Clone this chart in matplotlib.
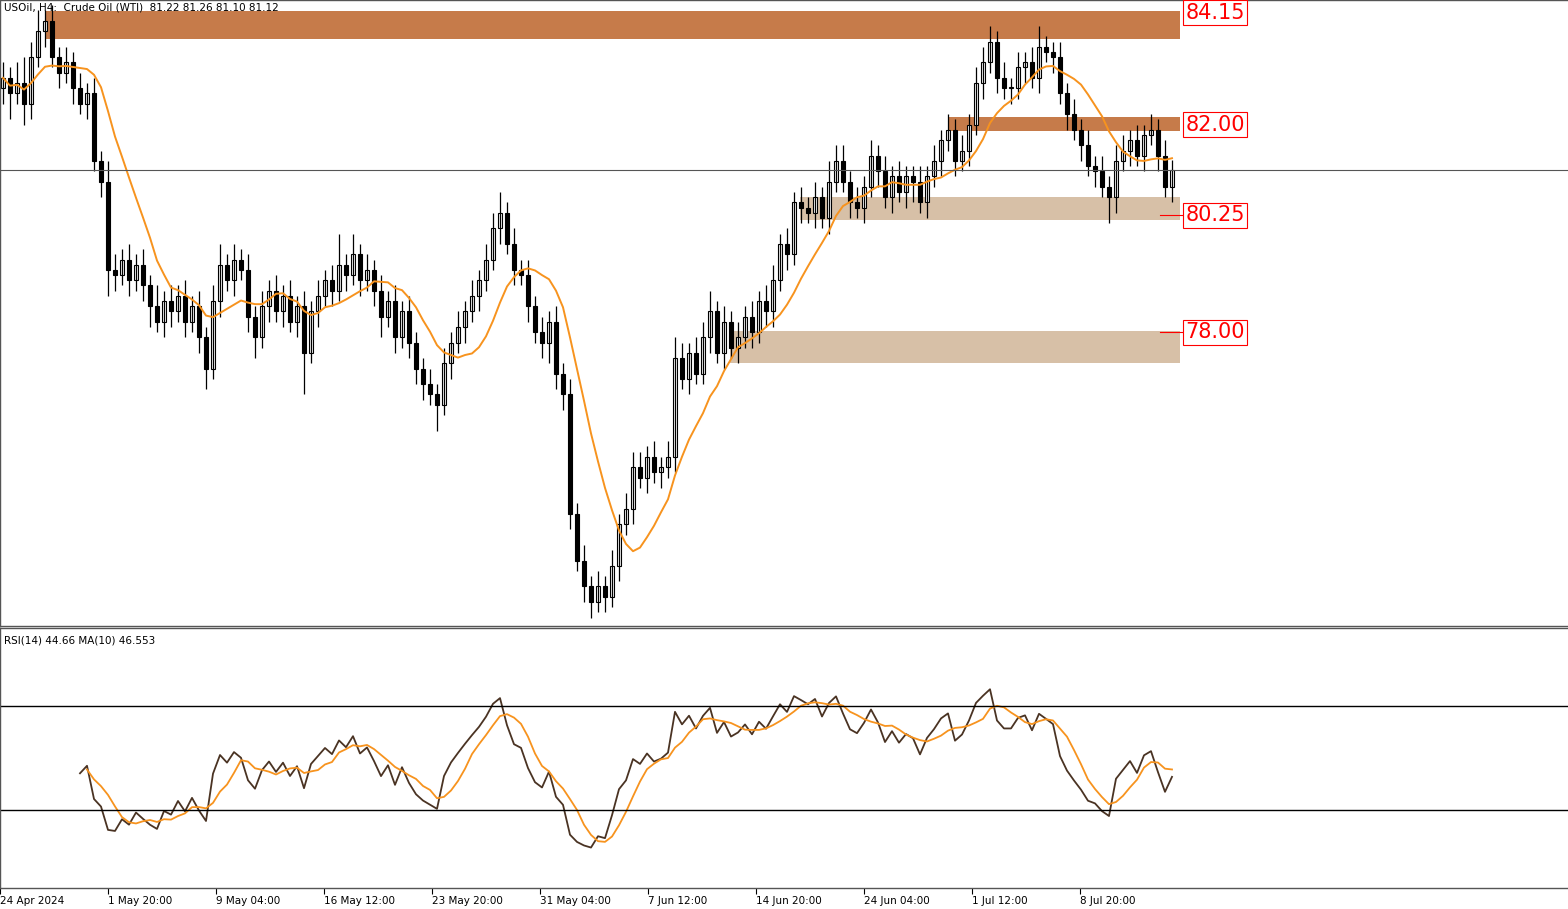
import matplotlib
matplotlib.use("Agg")
import matplotlib.pyplot as plt
import numpy as np
from matplotlib.patches import Rectangle

closes = [82.9, 82.6, 82.8, 82.4, 83.3, 83.8, 84.0, 83.3, 83.0, 83.2,
          82.7, 82.4, 82.6, 81.3, 80.9, 79.2, 79.1, 79.4, 79.0, 79.3,
          78.9, 78.5, 78.2, 78.6, 78.4, 78.7, 78.2, 78.5, 77.9, 77.3,
          78.6, 79.3, 79.0, 79.4, 79.2, 78.3, 77.9, 78.5, 78.8, 78.4,
          78.7, 78.2, 78.5, 77.6, 78.4, 78.7, 79.0, 78.8, 79.3, 79.1,
          79.5, 79.0, 79.2, 78.8, 78.3, 78.6, 77.9, 78.4, 77.8, 77.3,
          77.0, 76.8, 76.6, 77.4, 77.8, 78.1, 78.4, 78.7, 79.0, 79.4,
          80.0, 80.3, 79.7, 79.2, 79.1, 78.5, 78.0, 77.8, 78.2, 77.2,
          76.8, 74.5, 73.6, 73.1, 72.8, 73.1, 72.9, 73.5, 74.3, 74.6,
          75.4, 75.2, 75.6, 75.3, 75.4, 75.6, 77.5, 77.1, 77.6, 77.2,
          77.9, 78.4, 77.6, 78.2, 77.7, 77.9, 78.3, 78.0, 78.6, 78.4,
          79.0, 79.7, 79.5, 80.5, 80.4, 80.3, 80.6, 80.2, 80.9, 81.3,
          80.9, 80.5, 80.4, 80.8, 81.4, 81.1, 80.6, 81.0, 80.7, 81.0,
          80.9, 80.5, 81.0, 81.3, 81.7, 81.9, 81.3, 81.5, 82.0, 82.8,
          83.2, 83.6, 82.9, 82.7, 82.7, 83.1, 83.2, 82.9, 83.5, 83.4,
          83.3, 82.6, 82.2, 81.9, 81.6, 81.2, 81.1, 80.8, 80.6, 81.3,
          81.5, 81.7, 81.4, 81.8, 81.9, 81.4, 80.8, 81.12]
wick_up = [0.3, 0.2, 0.4, 0.5, 0.3, 0.4, 0.2, 0.3, 0.2, 0.3,
           0.2, 0.3, 0.2, 0.3, 0.2, 0.4, 0.3, 0.2, 0.3, 0.2,
           0.3, 0.2, 0.4, 0.2, 0.3, 0.2, 0.3, 0.2, 0.3, 0.2,
           0.3, 0.4, 0.2, 0.3, 0.2, 0.3, 0.2, 0.3, 0.2, 0.3,
           0.2, 0.3, 0.2, 0.3, 0.2, 0.3, 0.2, 0.3, 0.6, 0.2,
           0.4, 0.2, 0.3, 0.2, 0.3, 0.2, 0.3, 0.2, 0.3, 0.2,
           0.2, 0.3, 0.2, 0.3, 0.2, 0.3, 0.2, 0.3, 0.2, 0.3,
           0.3, 0.4, 0.2, 0.3, 0.2, 0.3, 0.2, 0.3, 0.2, 0.3,
           0.2, 0.3, 0.2, 0.3, 0.2, 0.3, 0.2, 0.3, 0.2, 0.3,
           0.3, 0.3, 0.2, 0.3, 0.2, 0.3, 0.4, 0.3, 0.2, 0.3,
           0.3, 0.4, 0.2, 0.3, 0.2, 0.3, 0.2, 0.3, 0.2, 0.3,
           0.3, 0.2, 0.3, 0.2, 0.3, 0.2, 0.3, 0.2, 0.4, 0.3,
           0.3, 0.2, 0.3, 0.2, 0.3, 0.2, 0.3, 0.2, 0.3, 0.2,
           0.2, 0.3, 0.2, 0.3, 0.2, 0.3, 0.2, 0.3, 0.2, 0.3,
           0.3, 0.3, 0.2, 0.3, 0.2, 0.3, 0.2, 0.3, 0.4, 0.2,
           0.2, 0.3, 0.2, 0.3, 0.2, 0.3, 0.2, 0.3, 0.2, 0.3,
           0.3, 0.2, 0.3, 0.2, 0.3, 0.2, 0.3, 0.2]
wick_dn = [0.3, 0.5, 0.2, 0.4, 0.3, 0.2, 0.3, 0.2, 0.3, 0.2,
           0.3, 0.2, 0.3, 0.2, 0.3, 0.5, 0.3, 0.2, 0.3, 0.2,
           0.3, 0.4, 0.2, 0.3, 0.3, 0.2, 0.3, 0.2, 0.3, 0.4,
           0.2, 0.3, 0.2, 0.3, 0.2, 0.3, 0.4, 0.2, 0.3, 0.2,
           0.3, 0.2, 0.3, 0.8, 0.2, 0.3, 0.2, 0.3, 0.2, 0.3,
           0.2, 0.3, 0.2, 0.3, 0.4, 0.2, 0.3, 0.2, 0.3, 0.3,
           0.3, 0.2, 0.5, 0.2, 0.3, 0.2, 0.3, 0.2, 0.3, 0.2,
           0.2, 0.3, 0.2, 0.3, 0.2, 0.3, 0.2, 0.3, 0.4, 0.3,
           0.3, 0.3, 0.2, 0.3, 0.3, 0.2, 0.3, 0.2, 0.3, 0.2,
           0.3, 0.2, 0.3, 0.2, 0.3, 0.2, 0.3, 0.2, 0.3, 0.2,
           0.2, 0.3, 0.2, 0.3, 0.2, 0.3, 0.2, 0.3, 0.2, 0.3,
           0.3, 0.2, 0.3, 0.2, 0.3, 0.2, 0.3, 0.2, 0.3, 0.2,
           0.2, 0.3, 0.2, 0.3, 0.2, 0.3, 0.2, 0.3, 0.2, 0.3,
           0.4, 0.2, 0.3, 0.2, 0.3, 0.2, 0.3, 0.2, 0.3, 0.2,
           0.3, 0.2, 0.3, 0.2, 0.3, 0.2, 0.3, 0.2, 0.3, 0.2,
           0.3, 0.2, 0.3, 0.2, 0.3, 0.2, 0.3, 0.2, 0.5, 0.3,
           0.2, 0.3, 0.2, 0.3, 0.2, 0.3, 0.2, 0.3]
first_open = 82.7
date_labels = ["24 Apr 2024", "1 May 20:00", "9 May 04:00", "16 May 12:00", "23 May 20:00",
               "31 May 04:00", "7 Jun 12:00", "14 Jun 20:00", "24 Jun 04:00", "1 Jul 12:00", "8 Jul 20:00"]
date_px = [0, 108, 216, 324, 432, 540, 648, 756, 864, 972, 1080]
levels = [84.15, 82.00, 80.25, 78.00]
level_ticks = [False, False, True, True]
zones = [(83.65, 84.19, 45, "#C67B4A"), (81.88, 82.15, 948, "#C67B4A"),
         (80.16, 80.60, 800, "#D7C0A7"), (77.41, 78.02, 730, "#D7C0A7")]
ohlc_title = "USOil, H4:  Crude Oil (WTI)  81.22 81.26 81.10 81.12"
rsi_title = "RSI(14) 44.66 MA(10) 46.553"

c = np.array(closes)
n = len(c)
o = np.concatenate([[first_open], c[:-1]])
h = np.maximum(o, c) + np.array(wick_up)
l = np.minimum(o, c) - np.array(wick_dn)
x = np.arange(n)
PX = 7.0
def px2x(p): return (p - 3) / PX

W, H = 1568, 909
fig = plt.figure(figsize=(W/100, H/100), dpi=100)
ax = fig.add_axes([0, 1-626/H, 1, 626/H])
ax2 = fig.add_axes([0, 1-888/H, 1, 260/H])
xl = (px2x(0), px2x(W))
for a in (ax, ax2):
    a.set_xlim(*xl)
    a.set_yticks([])
    for s in a.spines.values():
        s.set_color("#555555"); s.set_linewidth(1)
    a.spines["right"].set_visible(False)

ymax = 84.15 + 13/51.9
ymin = 84.15 - (626-13)/51.9
ax.set_ylim(ymin, ymax)

for xi, oo, hh, ll, cc in zip(x, o, h, l, c):
    ax.vlines(xi, ll, hh, color="black", lw=0.9)
    b = min(oo, cc); hgt = max(abs(cc-oo), 0.02)
    ax.add_patch(Rectangle((xi-0.22, b), 0.44, hgt, facecolor="white" if cc >= oo else "black",
                           edgecolor="black", lw=0.8))
ma = np.array([c[max(0, i-9):i+1].mean() for i in range(n)])
ax.plot(x, ma, color="#F7931E", lw=1.4)
ax.axhline(c[-1], color="#555555", lw=0.8)

for lo, hi, pstart, col in zones:
    ax.add_patch(Rectangle((px2x(pstart), lo), px2x(1180)-px2x(pstart), hi-lo, facecolor=col, edgecolor="none", zorder=0.5))
for lv, tk in zip(levels, level_ticks):
    if tk:
        ax.plot([px2x(1160), px2x(1185)], [lv, lv], color="red", lw=0.8)
    ax.text(px2x(1215), lv, f"{lv:.2f}", color="red", fontsize=15, ha="center", va="center",
            bbox=dict(boxstyle="square,pad=0.12", fc="white", ec="red", lw=0.8))
ax.text(px2x(4), ymax-0.05, ohlc_title, fontsize=7.5, va="top", ha="left")
ax.set_xticks([])

# RSI
d = np.diff(c)
period = 10
gain = np.where(d > 0, d, 0.0); loss = np.where(d < 0, -d, 0.0)
ag = gain[:period].mean(); al = loss[:period].mean()
rsi = [np.nan]*(period+1)
for i in range(period, len(d)):
    ag = (ag*(period-1)+gain[i])/period; al = (al*(period-1)+loss[i])/period
    rsi.append(100 - 100/(1+ag/max(al, 1e-9)))
rsi = np.array(rsi[:n])
rma = np.array([np.nanmean(rsi[max(0, i-4):i+1]) if i > period+1 else np.nan for i in range(n)])
ax2.set_ylim(0, 100)
ax2.plot(x, rsi, color="#4A3323", lw=1.3)
ax2.plot(x, rma, color="#F7931E", lw=1.3)
ax2.axhline(70, color="black", lw=1); ax2.axhline(30, color="black", lw=1)
ax2.text(px2x(4), 97, rsi_title, fontsize=7.5, va="top", ha="left")
ax2.set_xticks([px2x(p) for p in date_px])
ax2.set_xticklabels(date_labels, fontsize=7.5, ha="left")
ax2.tick_params(axis="x", length=4, pad=2)
fig.savefig("out.png", dpi=100)
